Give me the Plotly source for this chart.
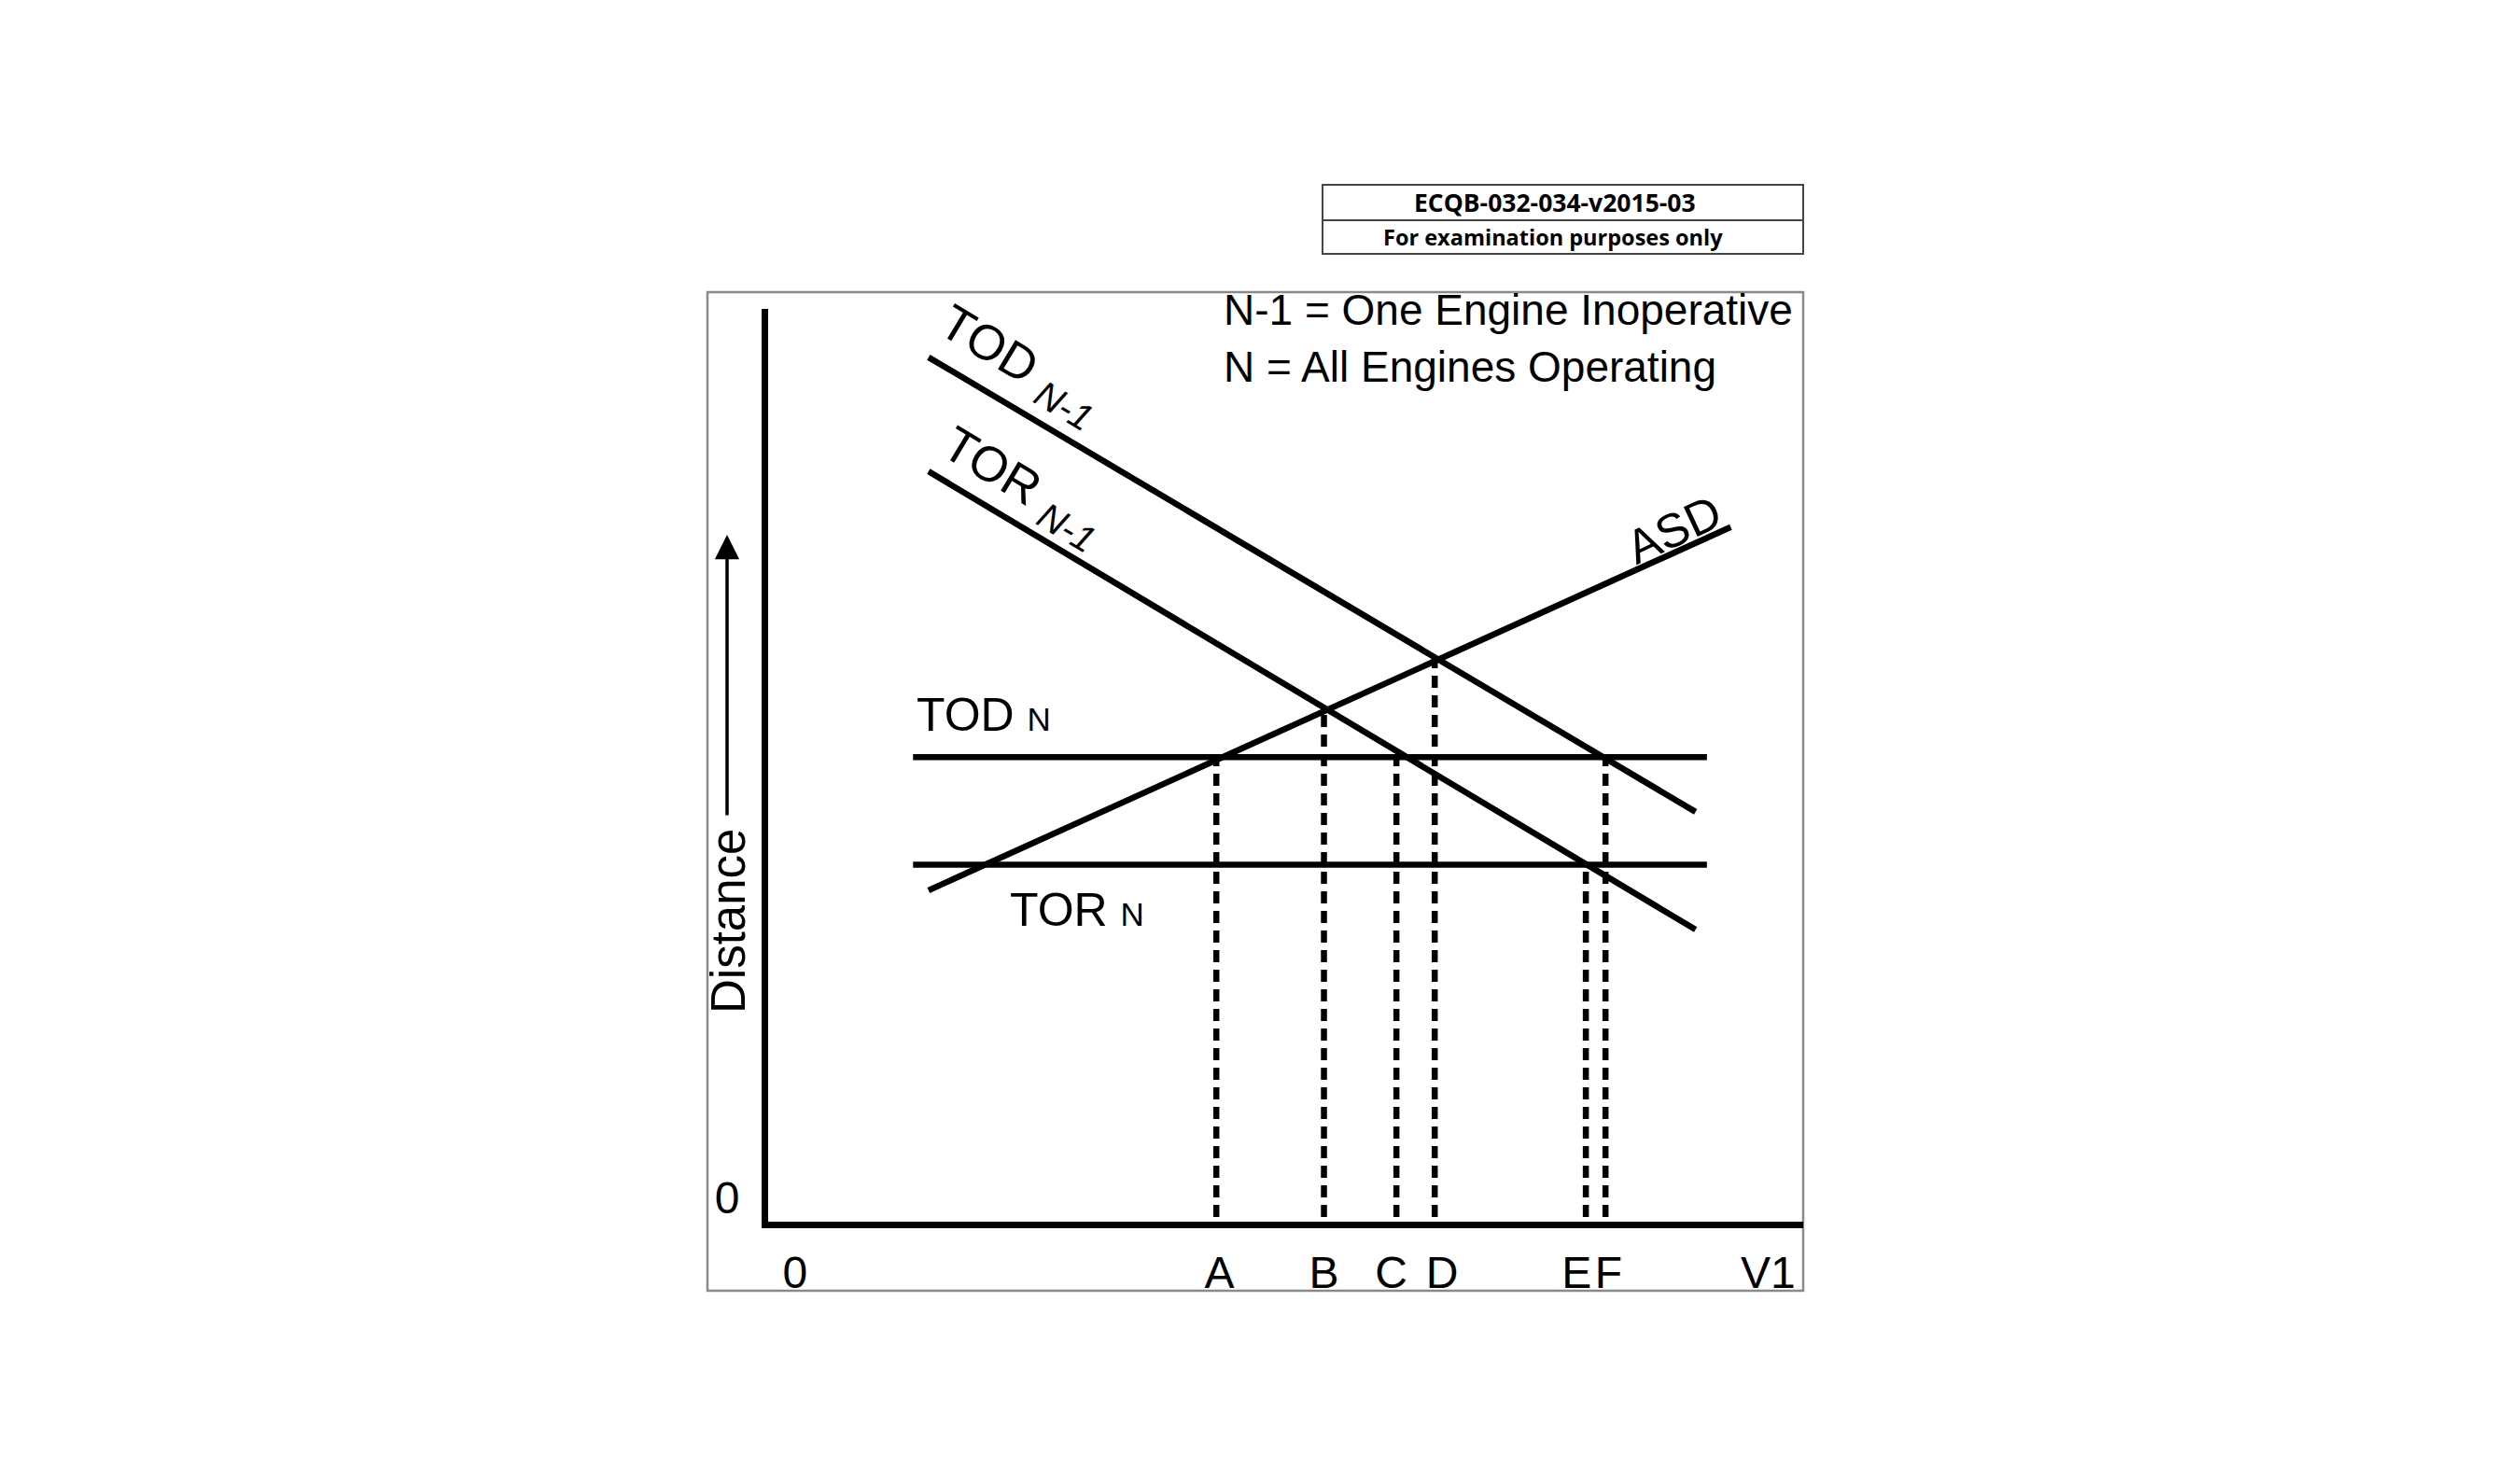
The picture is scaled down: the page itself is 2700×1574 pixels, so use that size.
import plotly.graph_objects as go

# ---- data (arbitrary units: V1 along x, distance along y) ----
line_names = ["TOD_N-1", "TOR_N-1", "ASD", "TOD_N", "TOR_N"]
line_x = {
    "TOD_N-1": [15.5, 89.6],
    "TOR_N-1": [15.5, 89.6],
    "ASD": [15.5, 93.0],
    "TOD_N": [14.0, 90.7],
    "TOR_N": [14.0, 90.7],
}
line_y = {
    "TOD_N-1": [94.7, 44.9],
    "TOR_N-1": [82.2, 32.0],
    "ASD": [36.3, 76.1],
    "TOD_N": [50.9, 50.9],
    "TOR_N": [39.1, 39.1],
}
mark_names = ["A", "B", "C", "D", "E", "F"]
mark_x = [43.3, 53.7, 60.7, 64.4, 79.0, 80.9]
mark_top = [50.9, 56.3, 50.9, 62.0, 39.1, 50.9]

x_tick_text = ["0", "A", "B", "C", "D", "E", "F", "V1"]
x_tick_pos = [2.6, 43.6, 53.7, 60.2, 65.1, 78.1, 81.2, 96.6]
y_tick_text = ["0"]
y_tick_pos = [0]

FONT = "Liberation Sans, Arial, sans-serif"
OFF = 8  # page body margin
W, H = 2700 - 2 * OFF, 1574 - 2 * OFF
PL, PR, PT, PB = 823 - OFF, 1932 - OFF, 331 - OFF, 1309 - OFF  # plot area in figure pixels


def px_to_paper_x(px):
    return (px - OFF - PL) / (PR - PL)


def px_to_paper_y(py):
    return (PB - (py - OFF)) / (PB - PT)


fig = go.Figure()

for name in line_names:
    fig.add_trace(go.Scatter(
        x=line_x[name], y=line_y[name], mode="lines",
        line=dict(color="black", width=6.5), name=name,
        hoverinfo="skip", showlegend=False, cliponaxis=False))

for name, xv, top in zip(mark_names, mark_x, mark_top):
    fig.add_trace(go.Scatter(
        x=[xv, xv], y=[0.5, top], mode="lines",
        line=dict(color="black", width=6.5, dash="13px,8px"), name=name,
        hoverinfo="skip", showlegend=False))

annotations = [
    dict(text="N-1 = One Engine Inoperative", x=px_to_paper_x(1309), y=px_to_paper_y(332),
         xref="paper", yref="paper", xanchor="left", yanchor="middle", showarrow=False,
         font=dict(size=46, family=FONT, color="black")),
    dict(text="N = All Engines Operating", x=px_to_paper_x(1309), y=px_to_paper_y(393),
         xref="paper", yref="paper", xanchor="left", yanchor="middle", showarrow=False,
         font=dict(size=46, family=FONT, color="black")),
    dict(text="TOD <sub><i><span style='font-size:40px'>N-1</span></i></sub>", x=24.3, y=93.7,
         xref="x", yref="y", textangle=31, showarrow=False, xanchor="center", yanchor="middle",
         font=dict(size=53, family=FONT, color="black")),
    dict(text="TOR <sub><i><span style='font-size:40px'>N-1</span></i></sub>", x=24.5, y=80.4,
         xref="x", yref="y", textangle=31, showarrow=False, xanchor="center", yanchor="middle",
         font=dict(size=53, family=FONT, color="black")),
    dict(text="ASD", x=87.5, y=75.8, xref="x", yref="y",
         textangle=-25, showarrow=False, xanchor="center", yanchor="middle",
         font=dict(size=51, family=FONT, color="black")),
    dict(text="TOD <span style='font-size:35px'>N</span>", x=14.2, y=55.5, xref="x", yref="y",
         showarrow=False, xanchor="left", yanchor="middle",
         font=dict(size=50, family=FONT, color="black")),
    dict(text="TOR <span style='font-size:35px'>N</span>", x=23.2, y=34.2, xref="x", yref="y",
         showarrow=False, xanchor="left", yanchor="middle",
         font=dict(size=50, family=FONT, color="black")),
    dict(text="Distance", x=px_to_paper_x(780), y=px_to_paper_y(987), xref="paper", yref="paper",
         textangle=-90, showarrow=False, xanchor="center", yanchor="middle",
         font=dict(size=51, family=FONT, color="black")),
    dict(text="", x=px_to_paper_x(779), y=px_to_paper_y(573), xref="paper", yref="paper",
         showarrow=True, ax=0, ay=302, axref="pixel", ayref="pixel",
         arrowhead=2, arrowsize=1.5, arrowwidth=3.5, arrowcolor="black"),
    dict(text="<b>ECQB-032-034-v2015-03</b>", x=px_to_paper_x(1666), y=px_to_paper_y(217),
         xref="paper", yref="paper", showarrow=False, xanchor="center", yanchor="middle",
         font=dict(size=26.5, family="Open Sans, sans-serif", color="black")),
    dict(text="<b>For examination purposes only</b>", x=px_to_paper_x(1664), y=px_to_paper_y(254),
         xref="paper", yref="paper", showarrow=False, xanchor="center", yanchor="middle",
         font=dict(size=23.5, family="Open Sans, sans-serif", color="black")),
]

shapes = [
    # outer frame
    dict(type="rect", xref="paper", yref="paper",
         x0=px_to_paper_x(758), x1=px_to_paper_x(1932), y0=px_to_paper_y(1383), y1=px_to_paper_y(313),
         line=dict(color="#8a8a8a", width=2.5), fillcolor="rgba(0,0,0,0)", layer="below"),
    # header box
    dict(type="rect", xref="paper", yref="paper",
         x0=px_to_paper_x(1417), x1=px_to_paper_x(1932), y0=px_to_paper_y(272), y1=px_to_paper_y(198),
         line=dict(color="#444", width=2), fillcolor="rgba(0,0,0,0)"),
    dict(type="line", xref="paper", yref="paper",
         x0=px_to_paper_x(1417), x1=px_to_paper_x(1932), y0=px_to_paper_y(236), y1=px_to_paper_y(236),
         line=dict(color="#444", width=2)),
]

fig.update_layout(
    width=W, height=H,
    margin=dict(l=PL, r=W - PR, t=PT, b=H - PB, pad=0),
    paper_bgcolor="white", plot_bgcolor="white",
    annotations=annotations, shapes=shapes,
    xaxis=dict(range=[0, 100], showgrid=False, zeroline=False, showline=True,
               linecolor="black", linewidth=7, tickvals=x_tick_pos, ticktext=x_tick_text,
               ticks="", ticklabelstandoff=6,
               tickfont=dict(size=48, family=FONT, color="black"), fixedrange=True),
    yaxis=dict(range=[0, 100], showgrid=False, zeroline=False, showline=True,
               linecolor="black", linewidth=7, tickvals=y_tick_pos, ticktext=y_tick_text,
               ticks="", ticklabelstandoff=14, ticklabelshift=-26,
               tickfont=dict(size=48, family=FONT, color="black"), fixedrange=True),
)

fig.write_html("out.html")
